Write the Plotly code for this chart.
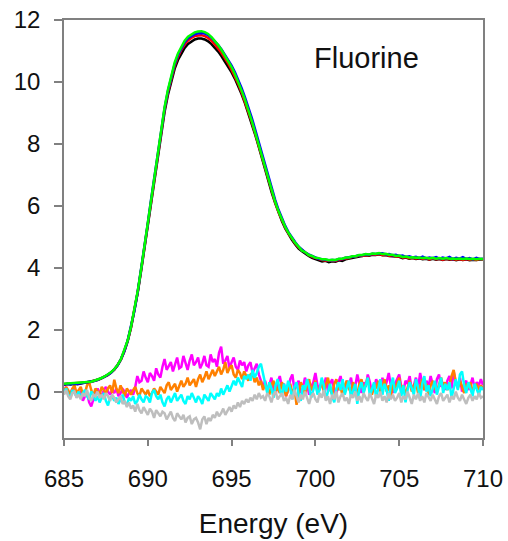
import numpy as np
import plotly.graph_objects as go

# Energy grids (eV)
energy_main = np.round(np.linspace(685.0, 710.0, 126), 3)   # 0.2 eV sampling
energy_diff = np.round(np.linspace(685.0, 710.0, 201), 3)   # 0.125 eV sampling

# Main XAS spectra (normalized absorption)
spec_black = [
    0.22, 0.24, 0.23, 0.25, 0.24, 0.26, 0.27, 0.29, 0.31, 0.34,
    0.37, 0.42, 0.47, 0.53, 0.61, 0.71, 0.85, 1.04, 1.30, 1.63,
    2.07, 2.58, 3.20, 3.90, 4.63, 5.38, 6.16, 6.92, 7.66, 8.37,
    9.03, 9.58, 10.04, 10.42, 10.71, 10.93, 11.10, 11.23, 11.31, 11.37,
    11.40, 11.40, 11.37, 11.31, 11.22, 11.11, 10.98, 10.83, 10.67, 10.50,
    10.31, 10.10, 9.86, 9.60, 9.31, 9.00, 8.67, 8.31, 7.94, 7.55,
    7.16, 6.78, 6.42, 6.09, 5.78, 5.51, 5.27, 5.07, 4.90, 4.75,
    4.62, 4.53, 4.44, 4.38, 4.32, 4.28, 4.24, 4.20, 4.22, 4.18,
    4.21, 4.19, 4.24, 4.22, 4.27, 4.29, 4.30, 4.34, 4.36, 4.37,
    4.40, 4.39, 4.42, 4.41, 4.43, 4.40, 4.41, 4.38, 4.37, 4.35,
    4.35, 4.31, 4.33, 4.29, 4.31, 4.28, 4.30, 4.27, 4.29, 4.26,
    4.29, 4.26, 4.28, 4.25, 4.28, 4.26, 4.27, 4.24, 4.27, 4.25,
    4.27, 4.24, 4.26, 4.25, 4.26, 4.27,
]
spec_red = [
    0.24, 0.25, 0.25, 0.26, 0.26, 0.27, 0.28, 0.30, 0.31, 0.35,
    0.38, 0.42, 0.48, 0.53, 0.62, 0.71, 0.86, 1.04, 1.31, 1.64,
    2.08, 2.60, 3.22, 3.92, 4.66, 5.41, 6.20, 6.96, 7.71, 8.43,
    9.10, 9.66, 10.12, 10.51, 10.81, 11.04, 11.21, 11.34, 11.42, 11.48,
    11.50, 11.51, 11.48, 11.42, 11.33, 11.22, 11.08, 10.93, 10.77, 10.59,
    10.39, 10.17, 9.93, 9.66, 9.36, 9.05, 8.71, 8.35, 7.97, 7.57,
    7.18, 6.80, 6.44, 6.11, 5.80, 5.53, 5.30, 5.10, 4.93, 4.78,
    4.65, 4.56, 4.47, 4.41, 4.35, 4.31, 4.28, 4.25, 4.23, 4.22,
    4.23, 4.22, 4.26, 4.27, 4.30, 4.31, 4.35, 4.35, 4.39, 4.38,
    4.41, 4.40, 4.43, 4.42, 4.44, 4.41, 4.42, 4.39, 4.40, 4.36,
    4.37, 4.33, 4.34, 4.31, 4.32, 4.30, 4.31, 4.29, 4.30, 4.27,
    4.30, 4.27, 4.29, 4.26, 4.29, 4.27, 4.28, 4.26, 4.28, 4.25,
    4.28, 4.26, 4.27, 4.25, 4.27, 4.27,
]
spec_blue = [
    0.23, 0.25, 0.24, 0.26, 0.25, 0.27, 0.28, 0.29, 0.32, 0.34,
    0.38, 0.42, 0.47, 0.54, 0.61, 0.72, 0.85, 1.05, 1.31, 1.65,
    2.09, 2.61, 3.23, 3.93, 4.68, 5.43, 6.22, 6.99, 7.75, 8.47,
    9.14, 9.71, 10.17, 10.57, 10.87, 11.10, 11.28, 11.41, 11.49, 11.54,
    11.57, 11.58, 11.56, 11.51, 11.43, 11.32, 11.19, 11.05, 10.89, 10.72,
    10.53, 10.31, 10.07, 9.80, 9.50, 9.19, 8.85, 8.48, 8.10, 7.70,
    7.29, 6.90, 6.53, 6.19, 5.87, 5.59, 5.35, 5.14, 4.97, 4.82,
    4.68, 4.58, 4.49, 4.43, 4.37, 4.33, 4.29, 4.27, 4.25, 4.24,
    4.25, 4.24, 4.28, 4.28, 4.32, 4.33, 4.36, 4.37, 4.40, 4.40,
    4.43, 4.42, 4.45, 4.44, 4.46, 4.47, 4.43, 4.44, 4.40, 4.42,
    4.38, 4.39, 4.35, 4.37, 4.33, 4.35, 4.31, 4.36, 4.30, 4.33,
    4.31, 4.34, 4.29, 4.33, 4.30, 4.35, 4.28, 4.32, 4.29, 4.34,
    4.28, 4.31, 4.27, 4.32, 4.28, 4.29,
]
spec_green = [
    0.25, 0.26, 0.26, 0.27, 0.27, 0.28, 0.29, 0.30, 0.32, 0.35,
    0.38, 0.43, 0.48, 0.54, 0.62, 0.72, 0.86, 1.05, 1.32, 1.65,
    2.10, 2.62, 3.25, 3.95, 4.70, 5.45, 6.25, 7.02, 7.78, 8.50,
    9.18, 9.75, 10.22, 10.62, 10.92, 11.15, 11.33, 11.46, 11.54, 11.60,
    11.63, 11.64, 11.61, 11.55, 11.45, 11.33, 11.19, 11.03, 10.86, 10.68,
    10.48, 10.25, 10.00, 9.72, 9.42, 9.10, 8.75, 8.38, 8.00, 7.60,
    7.20, 6.82, 6.46, 6.13, 5.82, 5.55, 5.32, 5.12, 4.95, 4.80,
    4.68, 4.55, 4.50, 4.41, 4.38, 4.32, 4.31, 4.27, 4.27, 4.24,
    4.26, 4.25, 4.29, 4.29, 4.33, 4.33, 4.37, 4.37, 4.41, 4.41,
    4.44, 4.43, 4.46, 4.45, 4.47, 4.44, 4.45, 4.42, 4.42, 4.38,
    4.39, 4.35, 4.36, 4.33, 4.34, 4.32, 4.33, 4.31, 4.32, 4.30,
    4.32, 4.29, 4.31, 4.29, 4.31, 4.29, 4.30, 4.28, 4.30, 4.28,
    4.30, 4.28, 4.29, 4.27, 4.29, 4.28,
]

# Difference spectra (one row = 1 eV, 0.125 eV steps)
diff_magenta = [
    0.05, 0.15, -0.05, -0.10, 0.10, 0.02, -0.18, -0.05,
    0.00, -0.30, -0.15, -0.05, -0.35, -0.48, -0.25, -0.10,
    0.10, -0.05, -0.15, 0.05, 0.15, 0.00, -0.10, 0.05,
    -0.05, 0.10, -0.15, -0.05, 0.08, 0.00, -0.20, -0.05,
    0.05, -0.10, 0.15, 0.50, 0.30, 0.35, 0.65, 0.45,
    0.30, 0.60, 0.50, 0.35, 0.75, 0.55, 0.45, 0.80,
    1.05, 0.70, 0.85, 0.95, 0.65, 0.90, 1.10, 0.75,
    0.80, 1.15, 0.95, 0.70, 1.00, 1.20, 0.85, 0.95,
    1.10, 0.75, 0.90, 1.15, 0.85, 0.80, 1.20, 0.95,
    1.05, 0.80, 1.25, 1.45, 0.90, 1.00, 1.15, 0.75,
    0.95, 1.10, 0.80, 0.70, 1.00, 0.85, 0.95, 0.65,
    0.85, 0.95, 0.60, 0.75, 0.90, 0.55, 0.35, 0.15,
    0.35, 0.05, 0.20, 0.45, 0.10, -0.10, 0.30, 0.50,
    0.15, 0.25, -0.15, 0.05, 0.40, 0.55, 0.05, 0.20,
    0.35, -0.05, 0.10, 0.45, 0.25, -0.10, 0.15, 0.30,
    0.60, 0.20, 0.05, 0.35, 0.15, 0.45, 0.00, 0.25,
    0.40, 0.05, -0.10, 0.30, 0.50, 0.15, 0.05, 0.35,
    0.20, 0.45, 0.00, 0.15, 0.55, 0.25, -0.05, 0.30,
    0.15, 0.55, 0.30, -0.05, 0.10, 0.40, 0.20, 0.00,
    0.45, 0.10, 0.30, 0.60, 0.20, -0.05, 0.25, 0.40,
    0.55, 0.15, 0.00, 0.35, 0.25, 0.50, 0.05, 0.20,
    0.45, 0.10, 0.60, 0.25, 0.05, 0.35, 0.15, 0.50,
    0.20, -0.05, 0.40, 0.55, 0.15, 0.30, 0.05, 0.35,
    0.50, 0.10, 0.65, 0.30, 0.15, 0.45, 0.00, 0.25,
    0.35, 0.05, 0.20, 0.45, 0.10, 0.30, 0.20, 0.40,
    0.20,
]
diff_orange = [
    0.00, 0.15, 0.05, -0.10, 0.10, 0.20, -0.05, 0.05,
    0.15, -0.10, -0.05, 0.20, 0.30, 0.05, -0.15, 0.10,
    0.00, -0.10, 0.15, 0.05, -0.05, 0.10, 0.20, -0.05,
    0.38, 0.10, -0.05, 0.20, 0.05, -0.15, 0.10, 0.00,
    -0.10, 0.05, 0.15, -0.05, -0.15, 0.10, 0.00, -0.10,
    0.05, -0.15, -0.05, 0.10, 0.00, -0.10, 0.15, 0.05,
    -0.05, 0.20, 0.30, 0.05, 0.15, 0.25, 0.00, 0.20,
    0.35, 0.15, 0.25, 0.45, 0.20, 0.30, 0.40, 0.15,
    0.40, 0.55, 0.30, 0.45, 0.65, 0.40, 0.55, 0.70,
    0.50, 0.65, 0.80, 0.55, 0.70, 0.95, 0.60, 0.75,
    0.85, 0.55, 0.45, 0.70, 0.60, 0.40, 0.65, 0.50,
    0.35, 0.55, 0.60, 0.30, 0.45, 0.20, 0.35, 0.05,
    0.25, 0.10, -0.10, 0.20, 0.35, 0.00, 0.15, -0.05,
    0.30, 0.10, -0.15, 0.05, 0.25, -0.05, 0.10, -0.43,
    -0.05, 0.30, 0.15, -0.10, 0.20, 0.40, 0.05, 0.15,
    0.35, -0.05, 0.10, 0.30, 0.00, 0.20, 0.45, 0.10,
    -0.10, 0.25, 0.40, 0.05, 0.15, -0.15, 0.20, 0.35,
    0.10, -0.05, 0.30, 0.15, -0.10, 0.25, 0.40, 0.00,
    0.20, 0.45, 0.05, -0.10, 0.25, 0.10, 0.35, -0.05,
    0.15, 0.40, 0.00, 0.20, -0.15, 0.30, 0.10, 0.25,
    0.45, 0.05, 0.20, -0.10, 0.15, 0.35, 0.00, 0.20,
    0.30, -0.05, 0.15, 0.40, 0.05, 0.25, -0.10, 0.20,
    0.35, 0.10, 0.00, 0.25, 0.45, 0.15, 0.30, 0.05,
    0.20, 0.50, 0.70, 0.30, 0.10, 0.35, 0.15, -0.05,
    0.25, 0.10, 0.30, 0.00, 0.15, 0.25, 0.05, 0.20,
    0.10,
]
diff_cyan = [
    -0.05, 0.10, -0.10, -0.20, 0.05, -0.05, -0.15, 0.00,
    -0.20, -0.05, 0.05, -0.15, -0.25, 0.00, -0.10, -0.30,
    -0.15, -0.35, -0.20, -0.05, -0.30, -0.45, -0.20, -0.15,
    -0.30, -0.20, -0.40, -0.25, -0.10, -0.35, -0.45, -0.20,
    -0.30, -0.15, -0.40, -0.30, -0.10, -0.25, -0.35, -0.15,
    -0.20, -0.35, -0.05, 0.05, -0.15, -0.25, -0.10, -0.35,
    -0.48, -0.25, -0.15, -0.35, -0.20, -0.05, -0.30, -0.20,
    -0.10, -0.30, -0.40, -0.15, -0.25, -0.05, -0.20, -0.35,
    -0.15, -0.25, -0.40, -0.10, -0.20, -0.30, -0.05, -0.15,
    -0.25, -0.05, -0.15, 0.10, -0.10, 0.05, 0.20, 0.00,
    0.15, 0.35, 0.20, 0.45, 0.30, 0.15, 0.50, 0.40,
    0.55, 0.35, 0.70, 0.45, 0.60, 0.80, 0.90, 0.55,
    0.25, -0.05, 0.30, 0.10, -0.20, 0.20, 0.40, 0.05,
    -0.15, 0.25, 0.00, 0.35, 0.10, -0.25, 0.15, 0.30,
    -0.10, -0.30, 0.20, 0.05, 0.40, 0.15, -0.20, 0.10,
    0.30, -0.10, 0.05, 0.45, 0.20, -0.25, 0.00, 0.25,
    -0.15, -0.35, 0.10, 0.30, 0.05, 0.40, -0.10, 0.15,
    0.35, -0.20, 0.00, 0.25, -0.40, 0.10, 0.30, -0.05,
    0.20, 0.45, -0.15, 0.05, 0.30, -0.20, 0.15, 0.40,
    -0.10, 0.25, 0.05, -0.30, 0.20, 0.45, -0.05, 0.10,
    0.35, -0.15, 0.20, -0.35, 0.05, 0.30, 0.10, -0.10,
    0.40, 0.15, -0.25, 0.25, 0.50, 0.00, 0.20, -0.15,
    0.10, 0.35, -0.10, 0.20, 0.45, -0.05, 0.25, 0.05,
    0.30, -0.20, 0.15, 0.40, 0.05, 0.55, 0.65, 0.20,
    -0.05, 0.30, 0.10, -0.15, 0.25, 0.05, -0.10, 0.15,
    0.05,
]
diff_gray = [
    -0.10, 0.05, -0.15, -0.25, -0.05, 0.00, -0.20, -0.10,
    -0.25, -0.05, -0.15, 0.05, -0.20, -0.30, -0.10, -0.15,
    0.00, -0.20, -0.10, -0.25, -0.05, -0.15, -0.30, -0.10,
    -0.20, -0.35, -0.25, -0.15, -0.40, -0.30, -0.50, -0.35,
    -0.55, -0.45, -0.65, -0.40, -0.60, -0.70, -0.50, -0.65,
    -0.75, -0.55, -0.65, -0.85, -0.60, -0.70, -0.80, -0.65,
    -0.70, -0.90, -0.75, -0.65, -0.85, -0.95, -0.70, -0.80,
    -0.90, -0.75, -1.00, -0.85, -0.80, -1.05, -0.90, -0.85,
    -1.00, -1.22, -0.90, -0.80, -1.05, -0.85, -0.95, -0.75,
    -0.85, -0.65, -0.80, -0.70, -0.55, -0.75, -0.60, -0.50,
    -0.65, -0.45, -0.55, -0.35, -0.50, -0.30, -0.40, -0.25,
    -0.35, -0.20, -0.30, -0.10, -0.25, -0.05, -0.20, -0.15,
    -0.30, -0.05, -0.15, -0.35, -0.10, 0.00, -0.25, -0.15,
    -0.05, -0.30, -0.20, -0.40, -0.10, -0.25, 0.05, -0.15,
    -0.35, -0.10, -0.25, 0.00, -0.20, -0.40, -0.15, -0.05,
    -0.25, -0.35, -0.05, -0.20, 0.05, -0.30, -0.15, -0.40,
    -0.10, -0.25, 0.00, -0.35, -0.15, -0.05, -0.30, -0.20,
    -0.40, -0.10, -0.20, 0.00, -0.30, -0.15, -0.35, -0.05,
    -0.20, -0.30, -0.05, -0.25, -0.40, -0.10, -0.20, 0.00,
    -0.30, -0.15, -0.35, -0.05, -0.25, -0.10, -0.30, -0.20,
    -0.05, -0.35, -0.15, -0.25, 0.00, -0.20, -0.40, -0.10,
    -0.25, -0.05, -0.30, -0.15, -0.35, -0.05, -0.20, -0.30,
    -0.10, -0.25, -0.40, -0.15, -0.05, -0.30, -0.20, -0.10,
    -0.35, -0.15, -0.25, 0.00, -0.20, -0.30, -0.10, -0.25,
    -0.40, -0.20, -0.10, -0.30, -0.15, -0.25, -0.05, -0.20,
    -0.15,
]

x_ticks = [685, 690, 695, 700, 705, 710]
y_ticks = [0, 2, 4, 6, 8, 10, 12]

series = [
    (energy_diff, diff_magenta, "#FF00FF"),
    (energy_diff, diff_orange, "#FF8000"),
    (energy_diff, diff_cyan, "#00FFFF"),
    (energy_diff, diff_gray, "#BEBEBE"),
    (energy_main, spec_black, "#000000"),
    (energy_main, spec_red, "#FF0000"),
    (energy_main, spec_blue, "#0000FF"),
    (energy_main, spec_green, "#00FF00"),
]

fig = go.Figure()
for xs, vals, col in series:
    fig.add_trace(go.Scatter(x=xs, y=vals, mode="lines",
                             line=dict(color=col, width=2.5),
                             showlegend=False, hoverinfo="skip"))

font_family = "Liberation Sans, Arial"
axis_common = dict(showline=True, linecolor="#808080", linewidth=1.5, mirror=True,
                   ticks="outside", tickcolor="#808080", tickwidth=1.5,
                   showgrid=False, zeroline=False, automargin=False,
                   tickfont=dict(family=font_family, size=24, color="#111111"))

fig.update_xaxes(range=[685, 710], tickvals=x_ticks, ticklen=6, ticklabelstandoff=12,
                 title=dict(text="Energy (eV)", standoff=23,
                            font=dict(family=font_family, size=28, color="#111111")),
                 **axis_common)
fig.update_yaxes(range=[-1.5, 12], tickvals=y_ticks, ticklen=8, ticklabelstandoff=9,
                 **axis_common)

fig.add_annotation(x=703.05, y=10.77, xref="x", yref="y", text="Fluorine", showarrow=False,
                   font=dict(family=font_family, size=29, color="#111111"))

fig.update_layout(width=508, height=541, margin=dict(l=64, r=25, t=20, b=103, pad=0),
                  plot_bgcolor="white", paper_bgcolor="white")

fig.write_html("out.html")
